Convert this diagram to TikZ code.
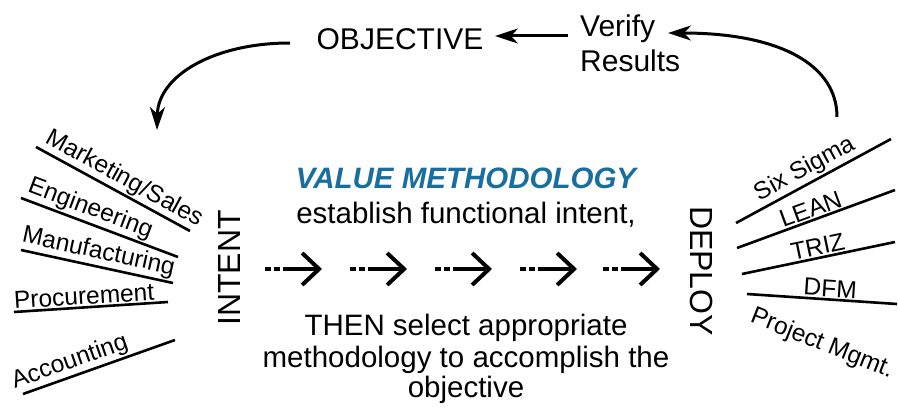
\documentclass[tikz,border=0pt]{standalone}
\usepackage{fontspec}
\setmainfont{Liberation Sans}
\usetikzlibrary{arrows.meta}
\definecolor{vmblue}{RGB}{25,110,160}
\begin{document}
\begin{tikzpicture}[x=1pt,y=-1pt,
  lbl/.style={line width=2.6pt},
  lbltxt/.style={font=\fontsize{24.5}{28}\selectfont, inner sep=1.5pt},
  big/.style={font=\fontsize{29.5}{34}\selectfont, inner sep=0pt},
  side/.style={font=\fontsize{32}{36}\selectfont, inner sep=0pt},
  toptxt/.style={font=\fontsize{30}{35}\selectfont, inner sep=0pt},
  flow/.style={line width=3pt, -{Stealth[length=23pt,width=15pt,inset=7pt]}},
  dflow/.style={line width=4pt, dash pattern=on 6pt off 3pt on 6pt off 3pt on 200pt off 1pt, -{Straight Barb[length=17pt,width=32pt]}}]
\useasboundingbox (0,0) rectangle (898,412);

% top cycle
\node[toptxt, anchor=base] (obj) at (400,50) {OBJECTIVE};
\node[toptxt, anchor=north west, align=left] (ver) at (580,15) {Verify\\Results};
\coordinate (vs) at (568,36);
\coordinate (ve) at (495,36);
\draw[flow] (vs) -- (ve);
\coordinate (ls) at (290,43);
\coordinate (le) at (157,130);
\draw[flow] (ls) .. controls (215,43) and (158,75) .. (le);
\coordinate (rs) at (837,117);
\coordinate (re) at (668,33);
\draw[flow] (rs) .. controls (837,65) and (780,33) .. (re);

% center text
\node[big, anchor=base, text=vmblue, font=\fontsize{29.5}{34}\selectfont\bfseries\itshape] (vm) at (466,188) {VALUE METHODOLOGY};
\node[big, anchor=base] (est) at (466,223) {establish functional intent,};
\node[big, anchor=base] (th1) at (466,335) {THEN select appropriate};
\node[big, anchor=base] (th2) at (466,367) {methodology to accomplish the};
\node[big, anchor=base] (th3) at (466,397) {objective};

% side words
\node[side, rotate=90] (intent) at (229,268) {INTENT};
\node[side, rotate=-90] (deploy) at (702,271) {DEPLOY};

% dashed arrows
\foreach \i/\s/\e in {1/265/322,2/350/407,3/435/492,4/520/577,5/603/660}{
  \coordinate (d\i s) at (\s,269);
  \coordinate (d\i e) at (\e,269);
  \draw[dflow] (d\i s) -- (d\i e);
}

% left labels
\coordinate (m1) at (36,147);  \coordinate (m2) at (190,231);
\coordinate (e1) at (21,198);  \coordinate (e2) at (178,257);
\coordinate (f1) at (21,250);  \coordinate (f2) at (173,283);
\coordinate (p1) at (14,312);  \coordinate (p2) at (168,302);
\coordinate (a1) at (23,394);  \coordinate (a2) at (175,340);
\draw[lbl] (m1) -- node[lbltxt, pos=.53, sloped, above] (mk) {Marketing/Sales} (m2);
\draw[lbl] (e1) -- node[lbltxt, pos=.41, sloped, above] (en) {Engineering} (e2);
\draw[lbl] (f1) -- node[lbltxt, pos=.49, sloped, above] (mf) {Manufacturing} (f2);
\draw[lbl] (p1) -- node[lbltxt, pos=.46, sloped, above] (pr) {Procurement} (p2);
\draw[lbl] (a1) -- node[lbltxt, pos=.34, sloped, above] (ac) {Accounting} (a2);

% right labels
\coordinate (s1) at (736,223); \coordinate (s2) at (891,139);
\coordinate (n1) at (737,248); \coordinate (n2) at (895,190);
\coordinate (t1) at (742,274); \coordinate (t2) at (895,242);
\coordinate (g1) at (747,294); \coordinate (g2) at (897,304);
\draw[lbl] (s1) -- node[lbltxt, pos=.49, sloped, above] (ss) {Six Sigma} (s2);
\draw[lbl] (n1) -- node[lbltxt, pos=.49, sloped, above] (ln) {LEAN} (n2);
\draw[lbl] (t1) -- node[lbltxt, pos=.51, sloped, above] (tz) {TRIZ} (t2);
\draw[lbl] (g1) -- node[lbltxt, pos=.55, sloped, above] (df) {DFM} (g2);
\node[lbltxt, rotate=-21.7] (pm) at (822,344) {Project Mgmt.};
\end{tikzpicture}
\end{document}
